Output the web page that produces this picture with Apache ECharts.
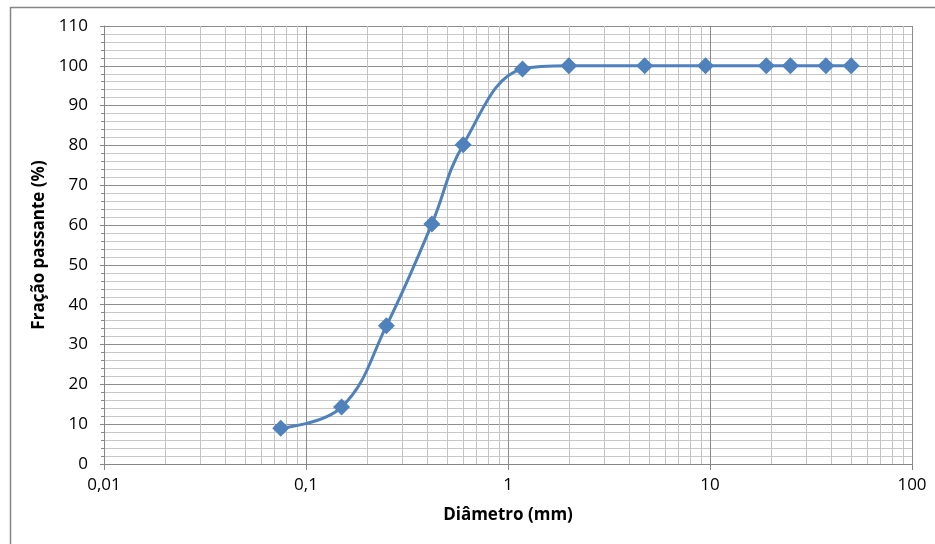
<!DOCTYPE html>
<html>
<head>
<meta charset="utf-8">
<script src="https://cdn.jsdelivr.net/npm/echarts@6/dist/echarts.min.js"></script>
<style>html,body{margin:0;padding:0;background:#fff}#c{width:935px;height:544px}</style>
</head>
<body>
<div id="c"></div>
<script>
// Data
const diametro = [0.075, 0.15, 0.25, 0.42, 0.6, 1.18, 2, 4.75, 9.5, 19, 25, 37.5, 50];
const passante = [9, 14.3, 34.7, 60.3, 80.2, 99.2, 100, 100, 100, 100, 100, 100, 100];
const xTitle = 'Diâmetro (mm)';
const yTitle = 'Fração passante (%)';

// minor log grid positions (2..9 x 10^k)
const minorX = [];
for (let k = -2; k < 2; k++) {
  for (let m = 2; m <= 9; m++) minorX.push(Number((m * Math.pow(10, k)).toPrecision(6)));
}

const font = 'Open Sans';
const chart = echarts.init(document.getElementById('c'), null, {renderer: 'canvas'});
chart.setOption({
  animation: false,
  backgroundColor: '#fff',
  textStyle: {fontFamily: font, fontSize: 17, color: '#000'},
  graphic: [{
    type: 'rect', left: 8, top: 5, shape: {width: 940, height: 560},
    style: {fill: 'none', stroke: '#868686', lineWidth: 1.5}, z: 100
  }],
  grid: {left: 104, right: 23, top: 26, bottom: 80, containLabel: false},
  xAxis: {
    type: 'log', logBase: 10, min: 0.01, max: 100,
    name: xTitle, nameLocation: 'middle', nameGap: 43,
    nameTextStyle: {fontFamily: font, fontWeight: 'bold', fontSize: 17, color: '#000'},
    axisLine: {show: true, lineStyle: {color: '#868686', width: 1}},
    axisTick: {show: true, length: 6, lineStyle: {color: '#868686'}},
    axisLabel: {
      show: true, fontFamily: font, fontSize: 17, fontWeight: 'normal', color: '#000', margin: 13,
      formatter: function (v) { return String(Number(Number(v).toPrecision(6))).replace('.', ','); }
    },
    splitLine: {show: true, lineStyle: {color: '#8c8c8c', width: 1}},
    minorTick: {show: false},
    minorSplitLine: {show: false}
  },
  yAxis: {
    type: 'value', min: 0, max: 110, interval: 10,
    name: yTitle, nameLocation: 'middle', nameGap: 54, nameRotate: 90,
    nameTextStyle: {fontFamily: font, fontWeight: 'bold', fontSize: 17, color: '#000'},
    axisLine: {show: true, lineStyle: {color: '#868686', width: 1}},
    axisTick: {show: true, length: 4, lineStyle: {color: '#868686'}},
    minorTick: {show: true, splitNumber: 5, length: 3, lineStyle: {color: '#868686'}},
    axisLabel: {show: true, fontFamily: font, fontSize: 17, fontWeight: 'normal', color: '#000', margin: 16},
    splitLine: {show: true, lineStyle: {color: '#8c8c8c', width: 1}},
    minorSplitLine: {show: true, lineStyle: {color: '#c8c8c8', width: 1}}
  },
  series: [
    {
      type: 'line', data: [], silent: true, symbol: 'none',
      markLine: {
        silent: true, symbol: ['none', 'none'], label: {show: false},
        lineStyle: {color: '#c4c4c4', width: 1, type: 'solid'},
        data: minorX.map(v => ({xAxis: v})), z: 1
      },
      z: 1
    },
    {
      type: 'line',
      data: diametro.map((d, i) => [d, passante[i]]),
      smooth: 0.4,
      smoothConstraint: false,
      symbol: 'diamond', symbolSize: 17,
      itemStyle: {color: '#4f81bd'},
      lineStyle: {color: '#4f81bd', width: 3},
      z: 5
    }
  ]
});
</script>
</body>
</html>
